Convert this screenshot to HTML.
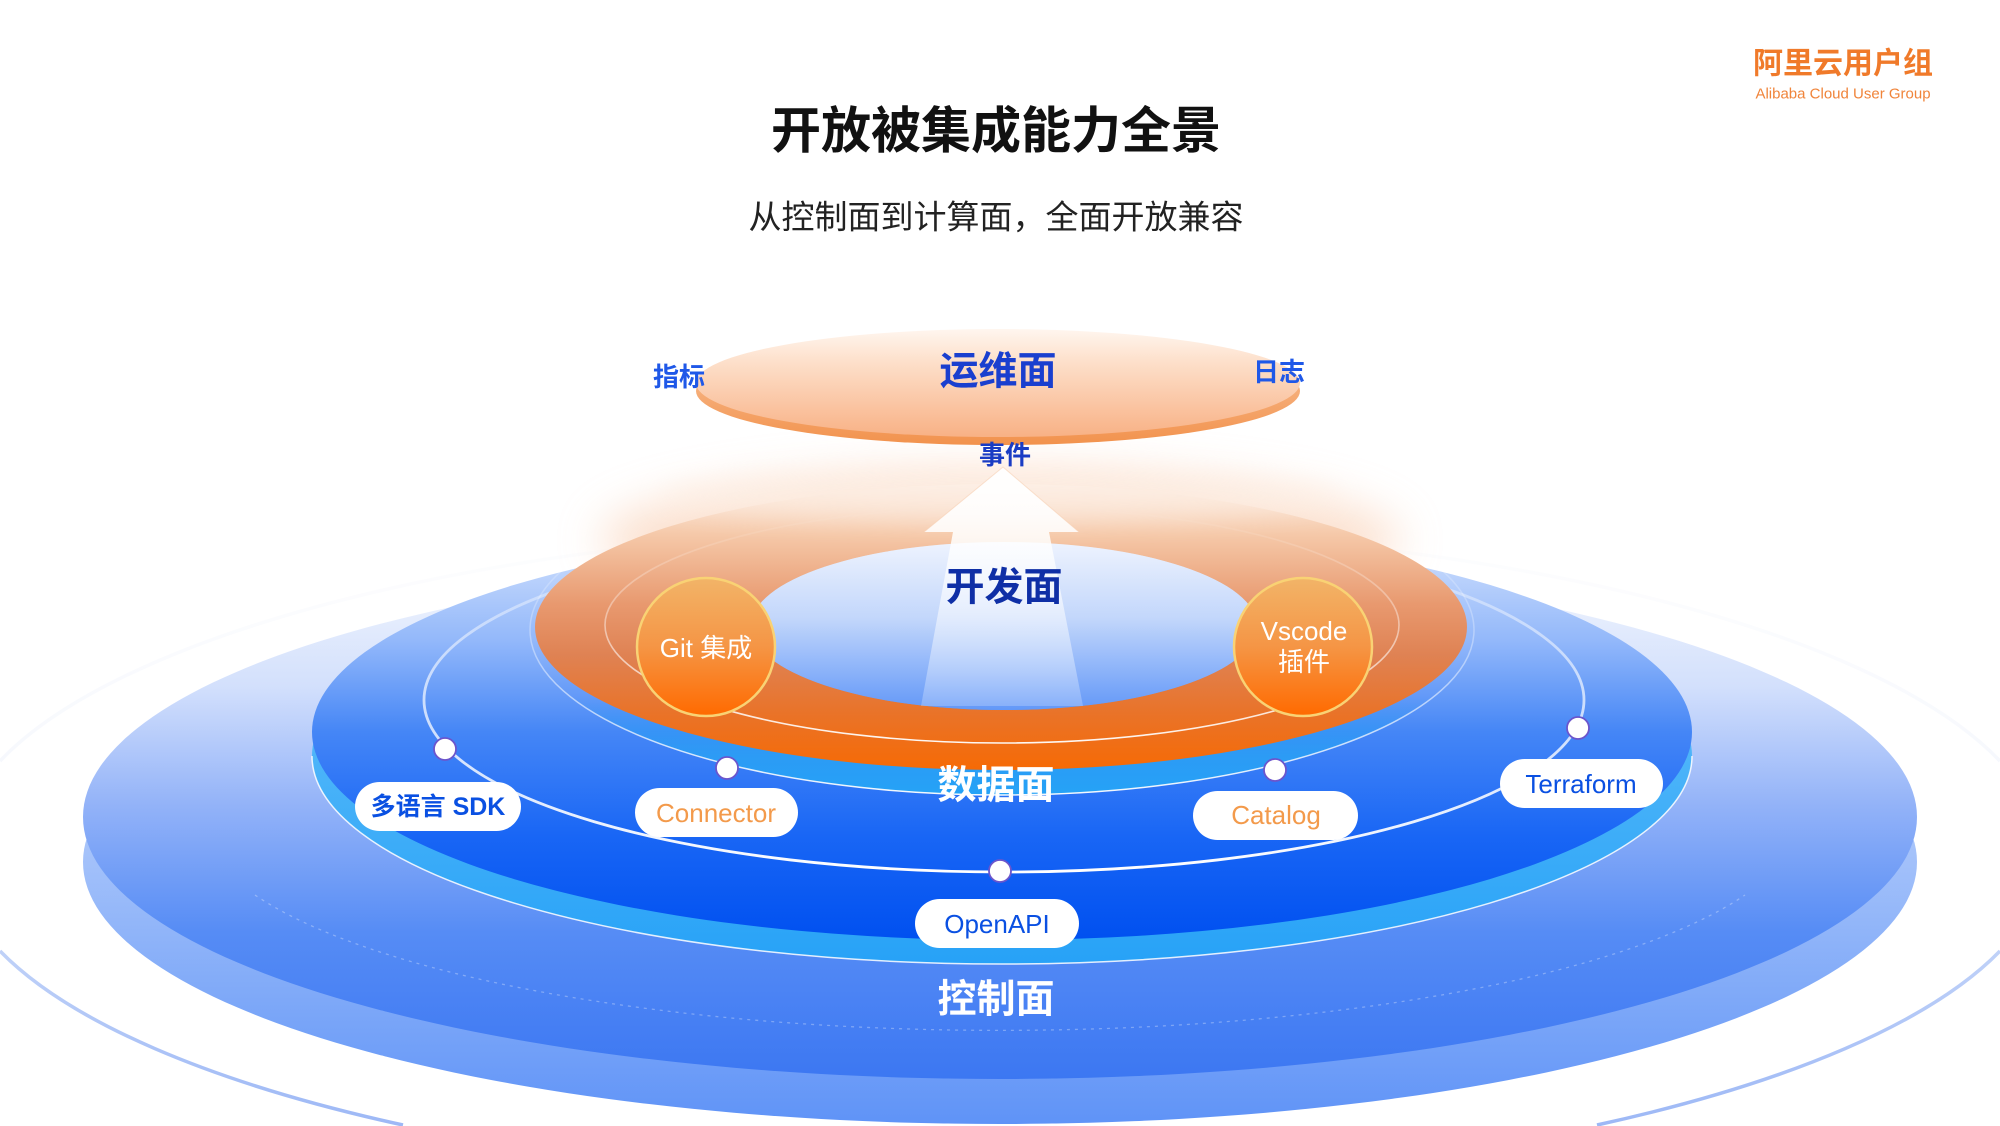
<!DOCTYPE html>
<html><head><meta charset="utf-8">
<style>
html,body{margin:0;padding:0;background:#fff;width:2000px;height:1126px;overflow:hidden;}
svg{display:block;overflow:hidden;}
text{font-family:"Liberation Sans","Noto Sans CJK SC",sans-serif;}
</style></head><body>
<svg width="2000" height="1126" viewBox="0 0 2000 1126" xmlns="http://www.w3.org/2000/svg">
<defs>
  <linearGradient id="outerRing" x1="0" y1="527" x2="0" y2="1126" gradientUnits="userSpaceOnUse">
    <stop offset="0" stop-color="#f3f5fb" stop-opacity="0.15"/>
    <stop offset="0.38" stop-color="#eef2fb" stop-opacity="0.5"/>
    <stop offset="0.68" stop-color="#c3d4f8"/>
    <stop offset="1" stop-color="#9db8f6"/>
  </linearGradient>
  <linearGradient id="bigRim" x1="0" y1="600" x2="0" y2="1124" gradientUnits="userSpaceOnUse">
    <stop offset="0" stop-color="#e8effd"/>
    <stop offset="0.45" stop-color="#a9c5fa"/>
    <stop offset="0.8" stop-color="#79a5f8"/>
    <stop offset="1" stop-color="#5f93f7"/>
  </linearGradient>
  <linearGradient id="bigFace" x1="0" y1="555" x2="0" y2="1079" gradientUnits="userSpaceOnUse">
    <stop offset="0" stop-color="#f5f8fe"/>
    <stop offset="0.25" stop-color="#d3e0fc"/>
    <stop offset="0.48" stop-color="#92b2f8"/>
    <stop offset="0.72" stop-color="#568cf5"/>
    <stop offset="1" stop-color="#3c77f2"/>
  </linearGradient>
  <linearGradient id="dataFace" x1="0" y1="524" x2="0" y2="940" gradientUnits="userSpaceOnUse">
    <stop offset="0" stop-color="#dbe7fd"/>
    <stop offset="0.28" stop-color="#93b8fa"/>
    <stop offset="0.5" stop-color="#4586f6"/>
    <stop offset="0.75" stop-color="#1966f5"/>
    <stop offset="1" stop-color="#0050f0"/>
  </linearGradient>
  <linearGradient id="dataRim" x1="0" y1="548" x2="0" y2="964" gradientUnits="userSpaceOnUse">
    <stop offset="0" stop-color="#8fd0fb"/>
    <stop offset="0.5" stop-color="#4cb4f9"/>
    <stop offset="1" stop-color="#27a2f7"/>
  </linearGradient>
  <linearGradient id="cyanUnder" x1="0" y1="465" x2="0" y2="795" gradientUnits="userSpaceOnUse">
    <stop offset="0" stop-color="#2aa0f5" stop-opacity="0"/>
    <stop offset="0.7" stop-color="#2aa0f5" stop-opacity="0"/>
    <stop offset="0.88" stop-color="#2aa0f5" stop-opacity="0.85"/>
    <stop offset="1" stop-color="#25a3f6" stop-opacity="1"/>
  </linearGradient>
  <linearGradient id="whiteFade" x1="0" y1="465" x2="0" y2="795" gradientUnits="userSpaceOnUse">
    <stop offset="0" stop-color="#ffffff" stop-opacity="0"/>
    <stop offset="0.5" stop-color="#ffffff" stop-opacity="0.3"/>
    <stop offset="1" stop-color="#ffffff" stop-opacity="0.95"/>
  </linearGradient>
  <linearGradient id="orbitFade" x1="0" y1="528" x2="0" y2="872" gradientUnits="userSpaceOnUse">
    <stop offset="0" stop-color="#ffffff" stop-opacity="0.15"/>
    <stop offset="0.45" stop-color="#ffffff" stop-opacity="0.65"/>
    <stop offset="1" stop-color="#ffffff" stop-opacity="1"/>
  </linearGradient>
  <linearGradient id="innerFade" x1="0" y1="507" x2="0" y2="743" gradientUnits="userSpaceOnUse">
    <stop offset="0" stop-color="#ffffff" stop-opacity="0"/>
    <stop offset="0.45" stop-color="#ffffff" stop-opacity="0.4"/>
    <stop offset="1" stop-color="#ffffff" stop-opacity="0.95"/>
  </linearGradient>
  <linearGradient id="orangeRing" x1="0" y1="484" x2="0" y2="770" gradientUnits="userSpaceOnUse">
    <stop offset="0" stop-color="#fdeee4"/>
    <stop offset="0.18" stop-color="#f5c8a8"/>
    <stop offset="0.42" stop-color="#e8996f"/>
    <stop offset="0.6" stop-color="#df8253"/>
    <stop offset="0.8" stop-color="#e97329"/>
    <stop offset="1" stop-color="#f66a05"/>
  </linearGradient>
  <linearGradient id="hole" x1="0" y1="542" x2="0" y2="710" gradientUnits="userSpaceOnUse">
    <stop offset="0" stop-color="#eef3fe"/>
    <stop offset="0.45" stop-color="#c3d7fb"/>
    <stop offset="1" stop-color="#6398f8"/>
  </linearGradient>
  <linearGradient id="arrow" x1="0" y1="467" x2="0" y2="706" gradientUnits="userSpaceOnUse">
    <stop offset="0" stop-color="#ffffff" stop-opacity="0.97"/>
    <stop offset="0.3" stop-color="#ffffff" stop-opacity="0.85"/>
    <stop offset="0.65" stop-color="#ffffff" stop-opacity="0.5"/>
    <stop offset="1" stop-color="#ffffff" stop-opacity="0.22"/>
  </linearGradient>
  <linearGradient id="ball" x1="0" y1="0" x2="0" y2="1">
    <stop offset="0" stop-color="#f2b468"/>
    <stop offset="0.5" stop-color="#f59545"/>
    <stop offset="1" stop-color="#ff6a00"/>
  </linearGradient>
  <linearGradient id="opsFace" x1="0" y1="329" x2="0" y2="437" gradientUnits="userSpaceOnUse">
    <stop offset="0" stop-color="#fff6ef"/>
    <stop offset="0.3" stop-color="#fde0cb"/>
    <stop offset="1" stop-color="#f8b185"/>
  </linearGradient>
  <linearGradient id="opsRim" x1="0" y1="337" x2="0" y2="445" gradientUnits="userSpaceOnUse">
    <stop offset="0" stop-color="#f9c8a2"/>
    <stop offset="1" stop-color="#f2924d"/>
  </linearGradient>
  <filter id="blur25" x="-50%" y="-50%" width="200%" height="200%"><feGaussianBlur stdDeviation="22"/></filter>
  <filter id="blur12" x="-50%" y="-50%" width="200%" height="200%"><feGaussianBlur stdDeviation="12"/></filter>
</defs>

<rect width="2000" height="1126" fill="#ffffff"/>

<!-- outer faint ring (only in-frame arcs) -->
<g fill="none" stroke="url(#outerRing)" stroke-width="3.5">
  <path d="M 0 951 A 1044 329 0 0 0 403 1125"/>
  <path d="M 0 761 A 1044 329 0 0 1 2000 761"/>
  <path d="M 1597 1125 A 1044 329 0 0 0 2000 951"/>
</g>

<!-- control plane (big disk) -->
<ellipse cx="1000" cy="862" rx="917" ry="262" fill="url(#bigRim)"/>
<ellipse cx="1000" cy="817" rx="917" ry="262" fill="url(#bigFace)"/>
<path d="M 255 895 A 800 213 0 0 0 1745 895" fill="none" stroke="#ffffff" stroke-opacity="0.3" stroke-width="1.3" stroke-dasharray="3 5"/>

<!-- data plane disk -->
<ellipse cx="1002" cy="756" rx="690" ry="208" fill="url(#dataRim)"/>
<path d="M 312 756 A 690 208 0 0 0 1692 756" fill="none" stroke="#ffffff" stroke-opacity="0.85" stroke-width="1.5"/>
<ellipse cx="1002" cy="732" rx="690" ry="208" fill="url(#dataFace)"/>

<!-- orbit ring -->
<ellipse cx="1004" cy="700" rx="580" ry="172" fill="none" stroke="url(#orbitFade)" stroke-width="2.8"/>

<!-- cyan band beneath orange ring + thin ring -->
<ellipse cx="1002" cy="630" rx="472" ry="165" fill="url(#cyanUnder)" stroke="url(#whiteFade)" stroke-width="1.5"/>

<!-- orange glow -->
<ellipse cx="1000" cy="540" rx="400" ry="70" fill="#f9cdb0" opacity="0.6" filter="url(#blur25)"/>

<!-- orange ring (dev plane) -->
<path fill="url(#orangeRing)" fill-rule="evenodd" d="M 535 627 A 466 143 0 1 0 1467 627 A 466 143 0 1 0 535 627 Z M 751 626 A 253 84 0 1 0 1257 626 A 253 84 0 1 0 751 626 Z"/>
<ellipse cx="1004" cy="626" rx="253" ry="84" fill="url(#hole)"/>
<ellipse cx="1000" cy="496" rx="340" ry="24" fill="#fdf0e6" opacity="0.55" filter="url(#blur12)"/>

<!-- inner thin ring within orange -->
<ellipse cx="1002" cy="625" rx="397" ry="118" fill="none" stroke="url(#innerFade)" stroke-width="1.6"/>

<!-- arrow -->
<polygon points="1003,467 1079,532 1049,532 1083,706 921,706 953,532 924,532" fill="url(#arrow)"/>
<polyline points="924,532 1003,467 1079,532" fill="none" stroke="#f6cfb2" stroke-opacity="0.6" stroke-width="1"/>

<!-- Git / Vscode balls -->
<circle cx="706" cy="647" r="69" fill="url(#ball)" stroke="#f9d274" stroke-width="2.5"/>
<circle cx="1303" cy="647" r="69" fill="url(#ball)" stroke="#f9d274" stroke-width="2.5"/>
<text x="706" y="648" text-anchor="middle" dominant-baseline="central" font-size="26" fill="#ffffff">Git 集成</text>
<text x="1304" y="631" text-anchor="middle" dominant-baseline="central" font-size="26" fill="#ffffff">Vscode</text>
<text x="1304" y="662" text-anchor="middle" dominant-baseline="central" font-size="26" fill="#ffffff">插件</text>

<!-- ops plane -->
<ellipse cx="998" cy="391" rx="302" ry="54" fill="url(#opsRim)"/>
<ellipse cx="998" cy="383" rx="302" ry="54" fill="url(#opsFace)"/>

<!-- nodes -->
<g fill="#ffffff" stroke="#6b55cc" stroke-width="1.8">
  <circle cx="445" cy="749" r="11"/>
  <circle cx="727" cy="768" r="11"/>
  <circle cx="1000" cy="871" r="11"/>
  <circle cx="1275" cy="770" r="11"/>
  <circle cx="1578" cy="728" r="11"/>
</g>

<!-- pills -->
<g fill="#ffffff">
  <rect x="355" y="782" width="166" height="49" rx="24.5"/>
  <rect x="635" y="788" width="163" height="49" rx="24.5"/>
  <rect x="915" y="899" width="164" height="49" rx="24.5"/>
  <rect x="1193" y="791" width="165" height="49" rx="24.5"/>
  <rect x="1500" y="759" width="163" height="49" rx="24.5"/>
</g>
<text x="438" y="807" text-anchor="middle" dominant-baseline="central" font-size="25" font-weight="bold" fill="#0a50e2">多语言 SDK</text>
<text x="716" y="813" text-anchor="middle" dominant-baseline="central" font-size="26" fill="#f39a4b">Connector</text>
<text x="997" y="924" text-anchor="middle" dominant-baseline="central" font-size="26" fill="#0a50e2">OpenAPI</text>
<text x="1276" y="815" text-anchor="middle" dominant-baseline="central" font-size="26" fill="#f39a4b">Catalog</text>
<text x="1581" y="784" text-anchor="middle" dominant-baseline="central" font-size="26" fill="#0a50e2">Terraform</text>

<!-- plane labels -->
<text x="998" y="372" text-anchor="middle" dominant-baseline="central" font-size="39" font-weight="bold" fill="#1a3fcf">运维面</text>
<text x="679" y="377" text-anchor="middle" dominant-baseline="central" font-size="26" font-weight="bold" fill="#1f58e8">指标</text>
<text x="1279" y="372" text-anchor="middle" dominant-baseline="central" font-size="26" font-weight="bold" fill="#1f58e8">日志</text>
<text x="1005" y="455" text-anchor="middle" dominant-baseline="central" font-size="26" font-weight="bold" fill="#1a3cc4">事件</text>
<text x="1004" y="588" text-anchor="middle" dominant-baseline="central" font-size="39" font-weight="bold" fill="#0f2fa6">开发面</text>
<text x="996" y="786" text-anchor="middle" dominant-baseline="central" font-size="39" font-weight="bold" fill="#ffffff">数据面</text>
<text x="996" y="1000" text-anchor="middle" dominant-baseline="central" font-size="39" font-weight="bold" fill="#ffffff">控制面</text>

<!-- title -->
<text x="996" y="131" text-anchor="middle" dominant-baseline="central" font-size="50" font-weight="bold" fill="#111111">开放被集成能力全景</text>
<text x="996" y="217" text-anchor="middle" dominant-baseline="central" font-size="33" fill="#222222">从控制面到计算面，全面开放兼容</text>

<!-- logo -->
<text x="1843" y="64" text-anchor="middle" dominant-baseline="central" font-size="30" font-weight="bold" fill="#f07a2a">阿里云用户组</text>
<text x="1843" y="94" text-anchor="middle" dominant-baseline="central" font-size="15" fill="#f0843a">Alibaba Cloud User Group</text>
</svg>
</body></html>
